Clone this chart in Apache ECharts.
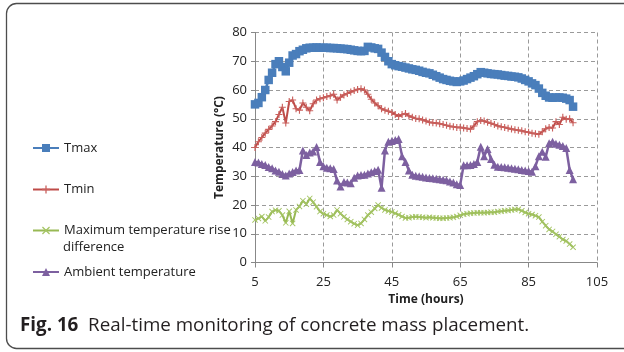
<!DOCTYPE html>
<html>
<head>
<meta charset="utf-8">
<script src="https://cdn.jsdelivr.net/npm/echarts@6/dist/echarts.min.js"></script>
<style>html,body{margin:0;padding:0;background:#fff;}#c{width:624px;height:352px;}</style>
</head>
<body>
<div id="c"></div>
<script>
var hours = [5,6,7,8,9,10,11,12,13,14,15,16,17,18,19,20,21,22,23,24,25,26,27,28,29,30,31,32,33,34,35,36,37,38,39,40,41,42,43,44,45,46,47,48,49,50,51,52,53,54,55,56,57,58,59,60,61,62,63,64,65,66,67,68,69,70,71,72,73,74,75,76,77,78,79,80,81,82,83,84,85,86,87,88,89,90,91,92,93,94,95,96,97,98];
var tmax = [55,55.5,57.5,60,63.5,66,69,70,68,66.5,69.5,72,72.5,73.5,74,74.5,74.7,74.7,74.8,74.7,74.7,74.7,74.6,74.6,74.5,74.4,74.3,74.2,74,73.8,73.6,73.5,73.6,75,74.8,74.5,74.3,73,71.5,70,69,68.6,68.3,68.1,67.8,67.5,67.2,67,66.7,66.3,66,65.8,65.3,64.8,64.3,63.8,63.5,63.2,63,62.8,63,63.3,63.8,64.3,64.8,65.5,66.2,66,65.8,65.6,65.5,65.4,65.2,65,64.9,64.7,64.6,64.4,64,63.5,63,62.3,61.7,60.5,59,58,57.4,57.3,57.4,57.4,57.3,57,56.5,54.2];
var tmin = [40,42,43.5,45,46.3,47.5,49,51.5,54,48.5,56,56.5,53.5,53,55.5,54,52.8,55.2,56.5,57,57.3,57.7,58,58.5,56.5,57.5,58.3,58.8,59.3,59.8,60.2,60.4,60,58.5,56.8,55.5,54.5,53.5,53,52.6,52.2,51.5,50.8,51.5,51.8,51,50.5,50.1,50,49.6,49.2,48.8,48.6,48.5,48.3,48,47.7,47.4,47.2,47,47,46.8,46.6,46.4,47.5,49,49.4,49.2,48.8,48.4,48,47.5,47.2,47,46.7,46.4,46.2,46,45.8,45.5,45.3,45,44.8,44.6,45.5,46.5,47,46.8,49,48,50.5,49.8,50,48.6];
var riseDiff = [14.8,15.3,16,14.5,15.8,17.7,18.2,18,16.5,13.8,17.8,13.6,18.3,19.5,21.5,20.3,22.3,21,19.4,17.7,17,16.5,16,16.5,18.3,17,15.9,15,14.2,13.5,13,13.6,15,16.5,17.5,18.8,20,19,18.3,17.9,17.6,17.1,16.6,16,15.5,15.6,15.8,15.9,15.8,15.7,15.6,15.7,15.6,15.5,15.4,15.4,15.5,15.6,15.7,16,16.4,16.8,17,17.1,17.2,17.3,17.3,17.3,17.4,17.5,17.5,17.7,17.8,18,18.1,18.3,18.4,18.5,18,17.4,17,16.7,16.3,15.8,14.2,12.8,11.5,10.8,9.8,9,8,7.5,6.4,5.3];
var ambient = [35,34.8,34.3,33.9,33.2,32.8,32,31.6,30.8,30.3,31,31.5,32,32.2,39,37.4,38.3,38.6,40.2,35,33.5,33,32.8,32.5,28.5,26.4,28,27.8,27.6,29.5,30.3,30.4,30.5,31,31.4,31.8,32.3,26,39,42,42.3,42.6,43,37,35,32,30.5,30.2,30,29.8,29.6,29.4,29.3,29.1,29,28.8,28.6,28.2,27.8,27.2,27,33.8,33.8,33.9,34.3,35,40.3,37,39.5,36,34,33.3,33.2,33.1,33,32.8,32.6,32.4,32.2,32,31.8,31.6,33.5,37,38.5,36.8,41.5,42,41.3,41,40.5,39.8,32.2,29];
var seriesNames = ['Tmax', 'Tmin', 'Maximum temperature rise difference', 'Ambient temperature'];
var xTicks = [5, 25, 45, 65, 85, 105];
var yTicks = [0, 10, 20, 30, 40, 50, 60, 70, 80];

function pairs(vals) { return hours.map(function (h, i) { return [h, vals[i]]; }); }

var PLUS = 'path://M0,4.2L10,4.2L10,5.8L0,5.8Z M4.2,0L5.8,0L5.8,10L4.2,10Z';
var CROSS = 'path://M0,1.1L1.1,0L10,8.9L8.9,10Z M8.9,0L10,1.1L1.1,10L0,8.9Z';
var FONT = '"Open Sans", "Noto Sans", sans-serif';

var chart = echarts.init(document.getElementById('c'), null, {renderer: 'canvas'});
function legendAt(name, top, extra) {
  var l = {
    data: [name], orient: 'vertical', left: 32, top: top, padding: 0,
    itemWidth: 26, itemHeight: 10, itemGap: 0, selectedMode: false,
    textStyle: {fontSize: 13, color: '#222', fontFamily: FONT}
  };
  if (extra) { for (var k in extra) l[k] = extra[k]; }
  return l;
}
var option = {
  animation: false,
  backgroundColor: '#fff',
  grid: {left: 255, right: 27, top: 32.5, bottom: 89.5, containLabel: false},
  title: {
    text: '{b|Fig. 16}  Real-time monitoring of concrete mass placement.',
    left: 20, top: 316, padding: 0,
    textStyle: {fontSize: 18.8, fontWeight: 'normal', color: '#231f20', fontFamily: FONT,
      rich: {b: {fontSize: 18.8, fontWeight: 'bold', color: '#231f20', fontFamily: FONT}}}
  },
  legend: [
    legendAt(seriesNames[0], 141.5),
    legendAt(seriesNames[1], 183),
    legendAt(seriesNames[2], 224, {
      formatter: function () { return 'Maximum temperature rise'; }
    }),
    legendAt(seriesNames[3], 265.5)
  ],
  xAxis: {
    type: 'value', min: xTicks[0], max: xTicks[xTicks.length - 1], interval: 20,
    name: 'Time (hours)', nameLocation: 'middle', nameGap: 31, nameMoveOverlap: false,
    nameTextStyle: {fontSize: 12, fontWeight: 'bold', color: '#222', fontFamily: FONT},
    axisLine: {show: true, lineStyle: {color: '#888', width: 1}},
    axisTick: {show: true, length: 5, lineStyle: {color: '#888'}},
    axisLabel: {fontSize: 13, color: '#222', fontFamily: FONT, margin: 13},
    splitLine: {show: true, lineStyle: {color: '#9a9a9a', type: [4, 3], width: 1}}
  },
  yAxis: {
    type: 'value', min: yTicks[0], max: yTicks[yTicks.length - 1], interval: 10,
    name: 'Temperature (°C)', nameLocation: 'middle', nameGap: 29, nameRotate: 90, nameMoveOverlap: false,
    nameTextStyle: {fontSize: 12, fontWeight: 'bold', color: '#222', fontFamily: FONT},
    axisLine: {show: true, lineStyle: {color: '#888', width: 1}},
    axisTick: {show: true, length: 4, lineStyle: {color: '#888'}},
    axisLabel: {fontSize: 13, color: '#222', fontFamily: FONT, margin: 8},
    splitLine: {show: true, lineStyle: {color: '#9a9a9a', type: [4, 3], width: 1}}
  },
  graphic: [{
    type: 'rect', left: 4, top: 1, silent: true,
    shape: {x: 0, y: 0, width: 660, height: 345, r: 10},
    style: {fill: 'none', stroke: '#4d4d4d', lineWidth: 1.3}
  }, {
    type: 'text', left: 63, top: 241, silent: true,
    style: {text: 'difference', fontSize: 13, fill: '#222', fontFamily: FONT}
  }],
  series: [
    {name: seriesNames[0], type: 'line', data: pairs(tmax), symbol: 'rect', symbolSize: 8.5,
      lineStyle: {color: '#4a7ebb', width: 2.5}, itemStyle: {color: '#4a7ebb'}, z: 4},
    {name: seriesNames[1], type: 'line', data: pairs(tmin), symbol: PLUS, symbolSize: 7,
      lineStyle: {color: '#be4b48', width: 2}, itemStyle: {color: '#c9605d'}, z: 3},
    {name: seriesNames[2], type: 'line', data: pairs(riseDiff), symbol: CROSS, symbolSize: 6,
      lineStyle: {color: '#98b954', width: 2}, itemStyle: {color: '#a4c463'}, z: 2},
    {name: seriesNames[3], type: 'line', data: pairs(ambient), symbol: 'triangle', symbolSize: 8,
      lineStyle: {color: '#7d60a0', width: 2.5}, itemStyle: {color: '#7d60a0'}, z: 5}
  ]
};
chart.setOption(option);
</script>
</body>
</html>
